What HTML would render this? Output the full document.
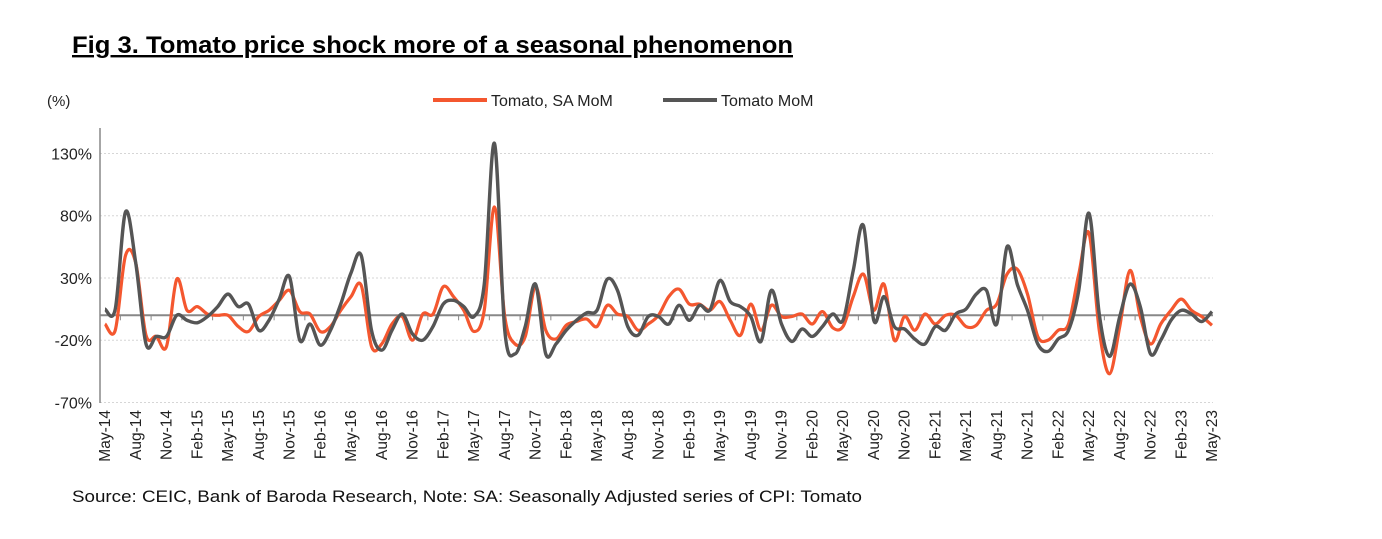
<!DOCTYPE html>
<html><head><meta charset="utf-8"><style>
body{margin:0;background:#fff;width:1382px;height:534px;overflow:hidden;font-family:"Liberation Sans",Arial,sans-serif}
</style></head><body>
<svg width="1382" height="534">
<text x="72" y="53" font-size="24" font-weight="bold" text-decoration="underline" fill="#000" textLength="721" lengthAdjust="spacingAndGlyphs">Fig 3.  Tomato price shock more of a seasonal phenomenon</text>
<text x="47" y="106" font-size="15" fill="#222">(%)</text>
<g>
<line x1="433" y1="100" x2="487" y2="100" stroke="#f4572f" stroke-width="4"/>
<text x="491" y="106" font-size="16" fill="#222">Tomato, SA MoM</text>
<line x1="663" y1="100" x2="717" y2="100" stroke="#555" stroke-width="4"/>
<text x="721" y="106" font-size="16" fill="#222">Tomato MoM</text>
</g>
<g id="grid"></g><g id="axes"></g><g id="series"></g>
<text x="72" y="502" font-size="17" fill="#111" textLength="790" lengthAdjust="spacingAndGlyphs">Source: CEIC, Bank of Baroda Research, Note: SA: Seasonally Adjusted series of CPI: Tomato</text>
</svg>
<script>
const yTicks=[130,80,30,-20,-70];
const monthNames=["Feb","May","Aug","Nov"];
const saMoM=[-7,-12,48,42,-16,-17,-25,29,4,7,1,0,0,-9,-13,-1,4,12,20,3,1,-13,-9,4,15,24,-25,-23,-7,-1,-20,1,1,23,15,4,-13,
4,87,-1,-23,-17,23,-12,-19,-8,-5,-3,-9,8,1,-1,-12,-7,0,15,21,9,9,4,11,-4,-16,9,-12,8,-1,-1,1,-7,3,-10,
-9,15,33,4,25,-20,-1,-12,1,-7,0,0,-9,-8,4,9,33,37,17,-17,-20,-12,-7,33,66,-12,-47,-9,36,-1,-23,-7,4,13,4,-1,-8];
const mom=[5,5,83,42,-23,-17,-17,0,-4,-6,-1,7,17,7,9,-12,-4,13,31,-20,-7,-24,-12,9,34,48,-12,-28,-12,1,-15,-20,-9,9,12,7,-1,
25,138,-12,-31,-9,25,-31,-23,-12,-4,2,4,29,20,-9,-16,-1,-1,-7,8,-4,8,4,28,11,7,-1,-21,20,-7,-21,-11,-17,-9,1,
-4,36,72,-4,15,-9,-11,-19,-23,-9,-12,1,5,17,20,-7,55,25,4,-23,-29,-19,-12,20,82,1,-33,-1,25,7,-31,-20,-4,4,1,-5,3];
const N=mom.length;
const X0=105,X1=1212;
const xs=i=>X0+(X1-X0)*i/(N-1);
const ys=v=>315.3-(v/50)*62.25;
const ns="http://www.w3.org/2000/svg";
function mk(tag,attrs,parent){const e=document.createElementNS(ns,tag);for(const k in attrs)e.setAttribute(k,attrs[k]);parent.appendChild(e);return e;}
const grid=document.getElementById('grid'),axes=document.getElementById('axes'),ser=document.getElementById('series');
yTicks.forEach(t=>{
 const y=ys(t);
 const l=mk('line',{x1:100,x2:1213,y1:y,y2:y,stroke:'#d6d6d6','stroke-width':1,'stroke-dasharray':'2,2'},grid);
 
 
 const tx=mk('text',{x:92,y:y+6,'font-size':16,'text-anchor':'end',fill:'#222'},axes);
 tx.textContent=t+'%';
 
 
});
const ya=mk('line',{x1:100,x2:100,y1:128,y2:403,stroke:'#888','stroke-width':1.5},axes);


const y0=ys(0);
const za=mk('line',{x1:100,x2:1213,y1:y0,y2:y0,stroke:'#888','stroke-width':2},axes);


for(let i=0;i<N;i+=3){
 const x=xs(i);
 if(i>0){const tk=mk('line',{x1:x-15.4,x2:x-15.4,y1:y0,y2:y0+5,stroke:'#888','stroke-width':1},axes);
 
 }
 const mIdx=(i/3)%4; const yr=14+Math.floor((i+4)/12);
 const lab=monthNames[(mIdx+1)%4]+'-'+yr;
 const t=mk('text',{x:0,y:0,'font-size':15.5,'text-anchor':'end',fill:'#222',transform:`translate(${x+5},410) rotate(-90)`},axes);
 t.textContent=lab;
 
 
}
function path(arr){
 const p=arr.map((v,i)=>[xs(i),ys(v)]);
 let d='M'+p[0][0]+','+p[0][1];
 for(let i=0;i<p.length-1;i++){
  const a=p[Math.max(0,i-1)],b=p[i],c=p[i+1],e=p[Math.min(p.length-1,i+2)];
  const c1=[b[0]+(c[0]-a[0])/6,b[1]+(c[1]-a[1])/6],c2=[c[0]-(e[0]-b[0])/6,c[1]-(e[1]-b[1])/6];
  d+=` C${c1[0]},${c1[1]} ${c2[0]},${c2[1]} ${c[0]},${c[1]}`;
 }
 return d;
}
const po=mk('path',{d:path(saMoM),fill:'none',stroke:'#f4572f','stroke-width':3.2,'stroke-linejoin':'round'},ser);


const pg=mk('path',{d:path(mom),fill:'none',stroke:'#555','stroke-width':3.4,'stroke-linejoin':'round'},ser);


</script>
</body></html>
